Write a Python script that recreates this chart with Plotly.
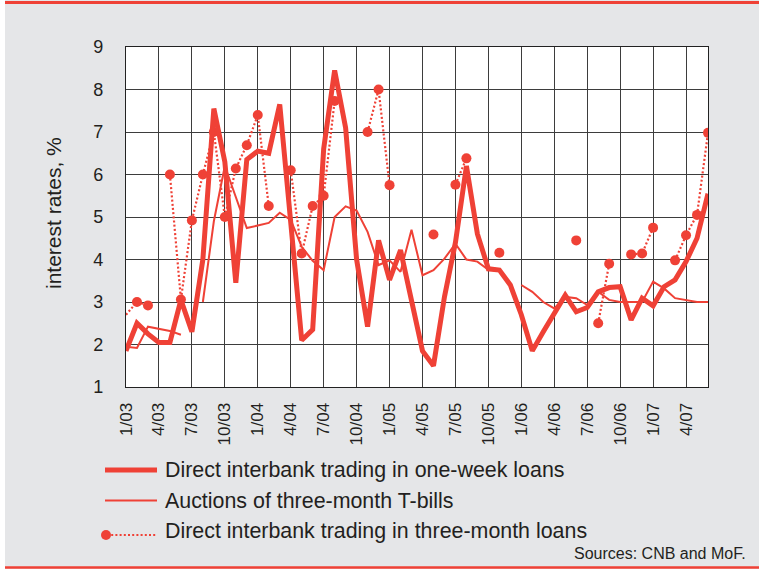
import plotly.graph_objects as go

# Monthly observations, 1/03 .. 6/07
months = [f"{m}/{y:02d}" for y in range(3, 8) for m in range(1, 13)][:54]

# Direct interbank trading in one-week loans (%)
one_week = [1.85, 2.5, 2.25, 2.05, 2.05, 3.05, 2.3, 4.0, 7.55, 6.3,
            3.45, 6.35, 6.55, 6.5, 7.65, 4.9, 2.1, 2.35, 6.6, 8.45,
            7.1, 4.0, 2.42, 4.45, 3.52, 4.22, 3.1, 1.85, 1.5, 3.12,
            4.4, 6.2, 4.6, 3.78, 3.75, 3.4, 2.7, 1.85, 2.3, 2.72,
            3.16, 2.77, 2.87, 3.24, 3.34, 3.36, 2.58, 3.09, 2.91, 3.36,
            3.52, 3.95, 4.5, 5.55]

# Auctions of three-month T-bills (%)
tbills = [1.95, 1.92, 2.42, 2.37, 2.32, 2.23, None, 3.0, 4.9, 6.2,
          5.45, 4.74, 4.8, 4.86, 5.1, 4.93, 4.3, 3.97, 3.75, 5.0,
          5.25, 5.15, 4.65, 3.87, 3.98, 3.71, 4.7, 3.63, 3.75, 4.02,
          4.37, 4.0, 3.95, 3.76, 3.74, None, 3.4, 3.24, 3.0, 2.85,
          3.12, 3.09, 2.93, 3.24, 3.05, 3.0, 3.0, 3.0, 3.48, 3.32,
          3.09, 3.05, 3.0, 3.0]

# Direct interbank trading in three-month loans (%)
three_month = [2.7, 3.0, 2.92, None, 6.0, 3.06, 4.92, 6.0, 7.0, 5.0,
               6.14, 6.69, 7.4, 5.26, None, 6.1, 4.14, 5.26, 5.5, 7.73,
               None, None, 7.0, 8.0, 5.75, None, None, None, 4.59, None,
               5.76, 6.38, None, None, 4.16, None, None, None, None, None,
               None, 4.45, None, 2.5, 3.9, None, 4.12, 4.14, 4.75, None,
               3.98, 4.57, 5.05, 6.98]

y_ticks = [1, 2, 3, 4, 5, 6, 7, 8, 9]

RED = "#ef4136"
TXT = "#231f20"
GRID = "#3d3d3d"
FONT = "Liberation Sans, Arial, Helvetica, sans-serif"

W, H = 759, 569
L, R, T, B = 126, 51, 47, 182
PW, PH = W - L - R, H - T - B


def px(xp):
    return (xp - L) / PW


def py(yp):
    return (H - B - yp) / PH


idx = list(range(len(months)))

fig = go.Figure()
fig.add_trace(go.Scatter(
    x=idx, y=tbills, mode="lines", connectgaps=False,
    line=dict(color=RED, width=2), name="Auctions of three-month T-bills",
    showlegend=False))
fig.add_trace(go.Scatter(
    x=idx, y=three_month, mode="lines+markers", connectgaps=False,
    line=dict(color=RED, width=2.2, dash="2px,2.2px"),
    marker=dict(color=RED, opacity=1, line=dict(width=0),
                size=[0] + [10] * (len(idx) - 1)),
    name="Direct interbank trading in three-month loans", showlegend=False))
fig.add_trace(go.Scatter(
    x=idx, y=one_week, mode="lines", connectgaps=False,
    line=dict(color=RED, width=5), name="Direct interbank trading in one-week loans",
    showlegend=False))

tick_idx = idx[::3]
fig.update_xaxes(
    range=[0, len(months) - 1], tickmode="array", tickvals=tick_idx,
    ticktext=[months[i] for i in tick_idx], tickangle=-90,
    tickfont=dict(size=17, color=TXT, family=FONT), ticks="",
    ticklabelstandoff=8,
    showgrid=True, gridcolor=GRID, gridwidth=1.1,
    showline=True, linecolor="#222", linewidth=1.2, mirror=True,
    zeroline=False)
fig.update_yaxes(
    range=[1, 9], tickmode="array", tickvals=y_ticks,
    tickfont=dict(size=18, color=TXT, family=FONT), ticks="",
    ticklabelstandoff=18,
    showgrid=True, gridcolor=GRID, gridwidth=1.3,
    showline=True, linecolor="#222", linewidth=1.2, mirror=True,
    zeroline=False)

shapes = [
    # white strip at the left edge of the page
    dict(type="rect", xref="paper", yref="paper", x0=px(0), x1=px(5),
         y0=py(H), y1=py(0), fillcolor="white", line_width=0, layer="below"),
    # red rules at top and bottom
    dict(type="line", xref="paper", yref="paper", x0=px(5), x1=px(W),
         y0=py(2.5), y1=py(2.5), line=dict(color=RED, width=3)),
    dict(type="line", xref="paper", yref="paper", x0=px(5), x1=px(W),
         y0=py(567.5), y1=py(567.5), line=dict(color=RED, width=2.5)),
    # legend keys
    dict(type="line", xref="paper", yref="paper", x0=px(105), x1=px(157),
         y0=py(470), y1=py(470), line=dict(color=RED, width=5)),
    dict(type="line", xref="paper", yref="paper", x0=px(105), x1=px(157),
         y0=py(500.5), y1=py(500.5), line=dict(color=RED, width=2)),
    dict(type="line", xref="paper", yref="paper", x0=px(107), x1=px(157),
         y0=py(535), y1=py(535), line=dict(color=RED, width=2.2, dash="2px,2.2px")),
    dict(type="circle", xref="paper", yref="paper", x0=px(101), x1=px(111),
         y0=py(530), y1=py(540), fillcolor=RED, line_width=0),
]

legend_labels = ["Direct interbank trading in one-week loans",
                 "Auctions of three-month T-bills",
                 "Direct interbank trading in three-month loans"]
legend_rows = [470, 500.5, 531]

annotations = [
    dict(text="interest rates, %", textangle=-90, xref="paper", yref="paper",
         x=px(53), y=py(213), xanchor="center", yanchor="middle",
         showarrow=False, font=dict(size=21, color=TXT, family=FONT)),
    dict(text="Sources: CNB and MoF.", xref="paper", yref="paper",
         x=px(748), y=py(553), xanchor="right", yanchor="middle",
         showarrow=False, font=dict(size=16, color=TXT, family=FONT)),
]
for label, row in zip(legend_labels, legend_rows):
    annotations.append(dict(
        text=label, xref="paper", yref="paper", x=px(163), y=py(row),
        xanchor="left", yanchor="middle", showarrow=False,
        font=dict(size=21.4, color=TXT, family=FONT)))

fig.update_layout(
    width=W, height=H, margin=dict(l=L, r=R, t=T, b=B, autoexpand=False),
    paper_bgcolor="#e5e6e8", plot_bgcolor="white",
    shapes=shapes, annotations=annotations, showlegend=False,
    font=dict(family=FONT, color=TXT))

fig.write_html("out.html")
